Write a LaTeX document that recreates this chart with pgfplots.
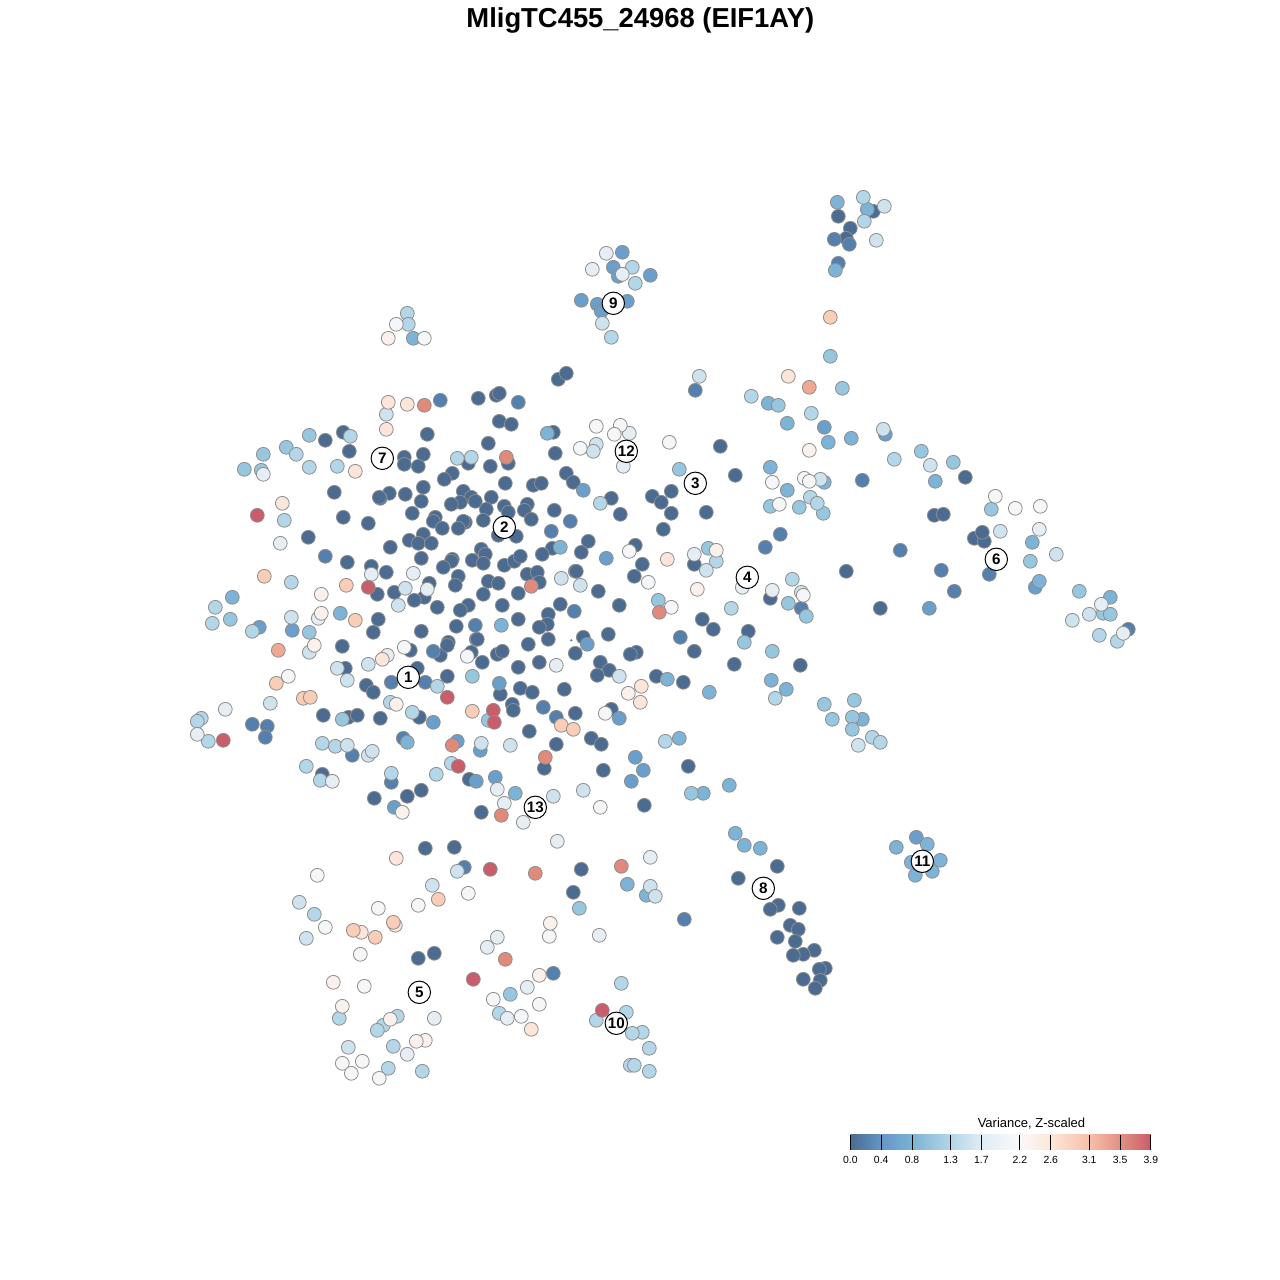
\documentclass[border=0pt]{standalone}
\usepackage{fontspec}
\setmainfont{Liberation Sans}
\usepackage{pgfplots}
\pgfplotsset{compat=1.18}
% point colours, low variance to high
\definecolor{b0}{HTML}{4C6B90}
\definecolor{b1}{HTML}{5580AD}
\definecolor{b2}{HTML}{6A9FCB}
\definecolor{b3}{HTML}{7CB3D6}
\definecolor{b4}{HTML}{97C6DF}
\definecolor{b5}{HTML}{B3D6E8}
\definecolor{b6}{HTML}{CFE3EE}
\definecolor{b7}{HTML}{E6EEF4}
\definecolor{b8}{HTML}{F5F6F7}
\definecolor{b9}{HTML}{FAF1EC}
\definecolor{b10}{HTML}{FDE5D9}
\definecolor{b11}{HTML}{F9CDB6}
\definecolor{b12}{HTML}{EFA893}
\definecolor{b13}{HTML}{E08A7C}
\definecolor{b14}{HTML}{C95D6B}
% legend stops
\definecolor{s0}{HTML}{4C6B90}
\definecolor{s1}{HTML}{6496C5}
\definecolor{s2}{HTML}{7BB3D5}
\definecolor{s3}{HTML}{B3D6E8}
\definecolor{s4}{HTML}{DFEDF5}
\definecolor{s5}{HTML}{F9F9F9}
\definecolor{s6}{HTML}{FDE6D8}
\definecolor{s7}{HTML}{F7C0A8}
\definecolor{s8}{HTML}{E29082}
\definecolor{s9}{HTML}{C95D6B}
\definecolor{edge}{HTML}{8E8E8E}
\pgfplotsset{pt/.style={only marks,mark=*,mark size=3.45pt,
  mark options={draw=edge,line width=.4pt,fill=#1}}}
\begin{document}
\begin{tikzpicture}
% hide axis leaves the box out of the bounding box, so fix the page here
\path[use as bounding box] (0,0) rectangle (640pt,640pt);
\begin{axis}[
  name=main, at={(0,0)}, anchor=south west,
  scale only axis, width=640pt, height=640pt,
  xmin=-0.3, xmax=1279.7, ymin=-0.3, ymax=1279.7, y dir=reverse,
  hide axis, clip=false,
]
\addplot[only marks, mark=*, mark size=.3pt, color=b0] coordinates {(571,640)};
\addplot[pt=b0] coordinates {
(873,211)(838,216)(850,228)(846,238)
(427,434)(343,432)(325,440)(349,451)(404,457)(404,464)(423,454)(418,466)(468,463)(452,473)(444,479)(488,443)(490,466)(508,463)(555,453)(505,483)(533,485)(541,483)(566,473)(573,482)(423,487)(389,493)(380,498)(379,497)(405,494)(421,501)(412,513)(334,492)(343,517)(368,523)(308,537)(347,562)(371,566)(386,572)(390,547)(421,558)
(463,491)(471,497)(460,502)(451,504)(475,501)(491,497)(486,509)(504,506)(508,512)(527,504)(524,510)(531,519)(483,520)(554,510)(552,548)(542,554)
(435,517)(433,521)(442,528)(465,522)(463,521)(458,528)(498,535)(516,536)
(423,534)(409,540)(418,543)(431,543)(481,549)(485,554)(472,560)(483,563)(452,559)(451,561)(443,567)(504,565)(514,561)(520,556)
(458,576)(455,585)(488,581)(498,583)(527,574)(537,572)(539,582)(518,593)(483,594)(575,571)
(429,583)(394,592)(424,597)(414,600)(437,607)(377,594)
(468,605)(460,610)(502,605)(560,604)(548,614)(518,619)(547,624)(539,627)(456,626)(421,631)(548,639)(448,642)
(378,619)(373,632)(342,646)(410,650)(440,655)(447,645)(471,652)(476,639)(345,668)(323,715)(348,717)(357,715)(380,718)(366,685)(373,692)(417,668)(447,676)(419,717)(322,774)(374,798)(407,796)(421,790)(469,779)(481,812)
(477,639)(482,662)(497,654)(502,651)(518,667)(539,662)(520,688)(532,692)(528,644)(564,689)(500,694)(512,704)(513,710)(529,731)(575,713)(556,744)(544,768)(583,637)(608,634)(575,653)(636,652)(630,654)(600,662)(609,670)(597,675)(656,676)(683,682)(702,619)(713,629)(748,631)(694,651)(734,664)(611,709)(591,738)(601,744)(603,770)(688,766)(644,805)
(558,379)(566,373)(478,398)(496,395)(499,393)(499,421)(511,424)(553,432)(720,446)(735,475)(611,498)(620,514)(652,496)(661,502)(671,491)(671,513)(706,512)(663,529)(588,541)(581,552)(635,545)(694,564)(642,564)(634,576)(576,571)(598,591)(619,605)
(965,477)(934,515)(943,514)(974,538)(984,541)(982,532)(846,571)(880,608)(770,598)(800,665)
(777,866)(738,878)(778,905)(770,909)(799,908)(790,925)(798,929)(777,937)(795,941)(814,950)(803,954)(793,955)(825,968)(819,969)(803,979)(820,980)(815,988)
(425,848)(454,847)(581,869)(573,892)(434,953)(418,958)
};
\addplot[pt=b1] coordinates {
(834,239)(849,244)(838,263)(695,390)(440,400)(518,402)(325,556)(252,724)(267,726)(265,737)(352,755)(391,782)(403,738)(391,682)(425,682)(433,651)(570,521)(551,531)(475,625)(574,611)(543,707)(556,717)(680,637)(765,547)(780,534)(900,550)(941,570)(989,574)(954,591)(862,480)(1128,629)(684,919)(553,973)(464,867)(801,608)
};
\addplot[pt=b2] coordinates {
(499,683)(583,490)(606,558)(292,630)(259,627)(433,722)(480,750)(394,807)(476,781)(495,777)(457,741)(635,757)(643,770)(631,781)(885,434)(824,427)(916,837)(929,608)(1035,587)(587,644)(619,718)(581,300)(597,304)(627,301)(601,311)(613,267)(618,276)(622,252)(650,275)
};
\addplot[pt=b3] coordinates {
(837,202)(867,209)(835,270)(547,433)(560,547)(501,625)(340,613)(232,597)(407,742)(667,679)(709,692)(679,738)(729,785)(703,793)(735,833)(744,845)(760,848)(627,884)(646,895)(768,403)(787,423)(828,442)(851,438)(770,467)(787,490)(771,680)(786,689)(862,719)(927,844)(896,847)(940,860)(911,862)(932,871)(915,875)(1032,542)(1039,581)(1110,597)(515,793)(824,482)(935,481)(413,338)
};
\addplot[pt=b4] coordinates {
(309,435)(286,447)(263,454)(244,469)(261,470)(230,619)(309,632)(472,676)(342,719)(488,720)(679,469)(658,600)(708,548)(744,642)(772,651)(830,356)(778,405)(842,388)(921,451)(953,462)(823,513)(799,507)(770,506)(991,509)(1030,561)(788,603)(806,616)(691,793)(824,704)(854,700)(832,719)(852,717)(1079,591)(1103,613)(1110,614)(579,908)(510,994)(852,729)
};
\addplot[pt=b5] coordinates {
(863,197)(864,221)(407,313)(408,324)(632,267)(635,283)(611,337)(296,454)(309,467)(337,466)(284,520)(291,582)(215,607)(212,623)(252,631)(350,436)(437,686)(412,712)(390,702)(201,718)(197,721)(208,741)(322,743)(335,746)(391,773)(306,766)(320,780)(436,774)(451,763)(600,503)(665,741)(716,561)(751,396)(811,413)(894,459)(810,497)(817,503)(792,579)(731,608)(775,698)(872,737)(880,742)(621,983)(1099,635)(1117,641)(339,1018)(596,1020)(626,1012)(642,1032)(632,1033)(649,1048)(630,1065)(634,1065)(649,1071)(393,1046)(388,1068)(422,1071)(397,1016)(383,1025)(377,1030)(499,1013)(314,914)(457,458)(471,457)
};
\addplot[pt=b6] coordinates {
(699,376)(876,240)(884,206)(602,323)(386,414)(883,429)(291,617)(309,652)(368,664)(337,668)(347,680)(270,703)(347,745)(368,755)(372,751)(481,743)(510,745)(561,578)(580,585)(398,605)(405,588)(553,796)(583,790)(858,745)(596,444)(593,451)(706,570)(820,479)(930,465)(1000,531)(1056,554)(1089,614)(1072,620)(432,885)(299,902)(306,938)(457,871)(650,886)(655,896)(348,1047)(619,676)(801,592)
};
\addplot[pt=b7] coordinates {
(263,474)(371,574)(413,573)(427,589)(318,618)(387,655)(197,734)(332,781)(497,789)(504,803)(523,822)(557,841)(623,466)(629,433)(694,554)(742,587)(772,590)(1039,529)(1101,604)(1123,633)(606,253)(592,269)(622,274)(650,857)(599,935)(497,937)(487,947)(527,987)(407,1054)(434,1018)(507,1018)(556,665)(280,543)(225,709)
};
\addplot[pt=b8] coordinates {
(396,324)(424,338)(288,676)(467,656)(404,647)(596,426)(620,425)(614,434)(580,448)(669,442)(629,551)(648,582)(605,713)(772,482)(779,504)(804,478)(809,481)(995,496)(1015,508)(1040,506)(803,595)(317,875)(468,893)(418,905)(378,908)(325,927)(549,936)(360,954)(364,986)(493,999)(539,1004)(521,1016)(342,1063)(362,1061)(351,1073)(379,1078)(600,807)(671,607)
};
\addplot[pt=b9] coordinates {
(388,338)(321,594)(321,613)(314,645)(716,550)(809,450)(628,693)(402,812)(396,704)(550,923)(333,982)(539,975)(342,1006)(390,1019)(697,589)(425,1040)(416,1041)
};
\addplot[pt=b10] coordinates {
(388,402)(407,404)(386,429)(355,471)(282,503)(382,659)(667,559)(641,686)(640,702)(396,858)(395,925)(361,932)(531,1029)(788,376)
};
\addplot[pt=b11] coordinates {
(264,576)(346,585)(355,620)(276,683)(303,698)(310,697)(472,711)(561,725)(573,729)(830,317)(438,899)(393,922)(353,930)(375,937)
};
\addplot[pt=b12] coordinates {
(278,650)(809,387)
};
\addplot[pt=b13] coordinates {
(424,405)(506,457)(531,586)(452,745)(545,757)(659,612)(501,815)(535,873)(621,866)(505,959)
};
\addplot[pt=b14] coordinates {
(257,515)(223,740)(368,587)(447,697)(493,710)(494,722)(458,766)(490,869)(473,979)(602,1010)
};
% cluster numbers
\addplot[only marks, mark=*, mark size=5.6pt,
  mark options={draw=black,fill=white,line width=.5pt},
  nodes near coords, point meta=explicit symbolic,
  every node near coord/.append style={anchor=center,inner sep=0pt,text=black,
    font=\fontsize{7.6}{8}\selectfont\bfseries},
] coordinates {
(408,677)[1] (504,527)[2] (695,483)[3] (747,577)[4] (419,992)[5] (996,559)[6]
(382,458)[7] (763,888)[8] (613,303)[9] (616,1023)[10] (922,861)[11] (626,451)[12] (535,807)[13]
};
\node[font=\fontsize{13.7}{15}\selectfont\bfseries] at (axis cs:640,20) {MligTC455\_24968 (EIF1AY)};
\end{axis}
% colour key
\begin{axis}[
  at={(425.2pt,65.2pt)}, anchor=south west,
  scale only axis, width=150.25pt, height=7.5pt,
  xmin=0, xmax=3.9, ymin=0, ymax=1,
  clip=false, axis on top, hide y axis,
  axis x line*=bottom, axis line style={draw=none},
  xtick={0,0.4,0.8,1.3,1.7,2.2,2.6,3.1,3.5,3.9},
  tick align=inside, major tick length=7.5pt,
  tick style={black,line width=.5pt},
  xticklabel style={font=\fontsize{5.2}{6}\selectfont,yshift=.2pt},
  /pgf/number format/assume math mode=true,
  /pgf/number format/fixed, /pgf/number format/fixed zerofill,
  /pgf/number format/precision=1,
]
\shade[left color=s0,right color=s1,draw=none] (axis cs:0,0) rectangle (axis cs:0.4,1);
\shade[left color=s1,right color=s2,draw=none] (axis cs:0.4,0) rectangle (axis cs:0.8,1);
\shade[left color=s2,right color=s3,draw=none] (axis cs:0.8,0) rectangle (axis cs:1.3,1);
\shade[left color=s3,right color=s4,draw=none] (axis cs:1.3,0) rectangle (axis cs:1.7,1);
\shade[left color=s4,right color=s5,draw=none] (axis cs:1.7,0) rectangle (axis cs:2.2,1);
\shade[left color=s5,right color=s6,draw=none] (axis cs:2.2,0) rectangle (axis cs:2.6,1);
\shade[left color=s6,right color=s7,draw=none] (axis cs:2.6,0) rectangle (axis cs:3.1,1);
\shade[left color=s7,right color=s8,draw=none] (axis cs:3.1,0) rectangle (axis cs:3.5,1);
\shade[left color=s8,right color=s9,draw=none] (axis cs:3.5,0) rectangle (axis cs:3.9,1);
\node[font=\fontsize{6.5}{7}\selectfont] at (axis cs:2.35,1.75) {Variance, Z-scaled};
\end{axis}
\end{tikzpicture}
\end{document}
